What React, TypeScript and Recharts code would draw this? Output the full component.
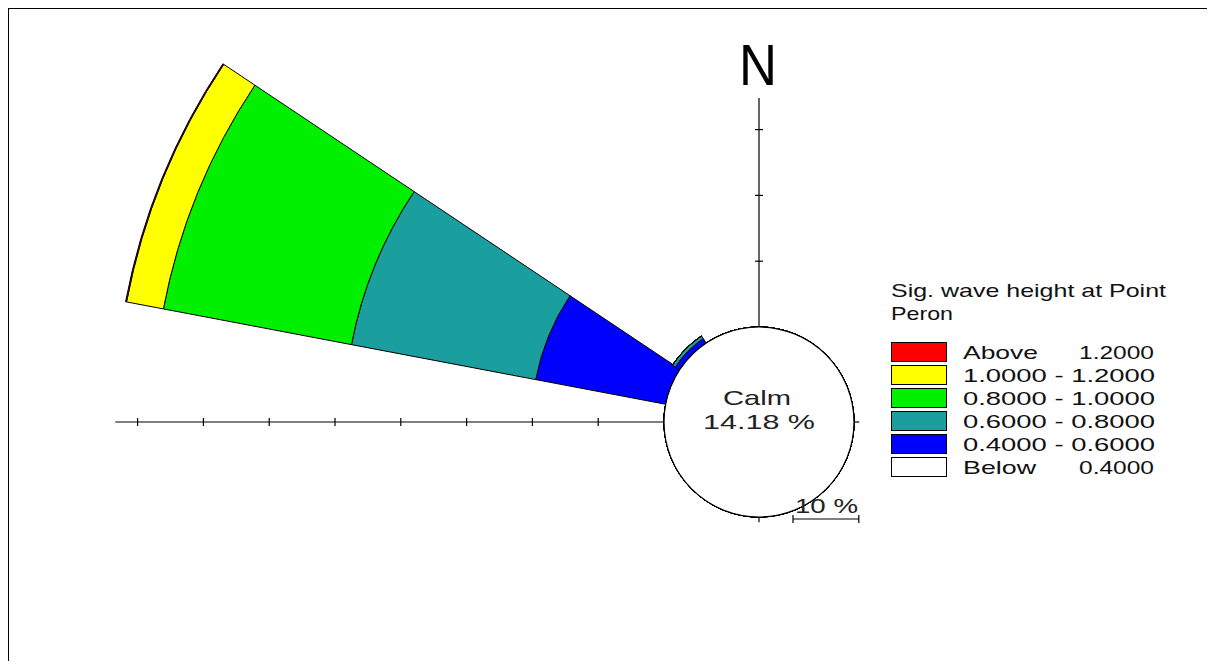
import { RadialBarChart, RadialBar, PolarAngleAxis, PolarRadiusAxis, Legend } from "recharts"

// 16 compass sectors, percent of time per wave-height band
const directions = ["N", "NNE", "NE", "ENE", "E", "ESE", "SE", "SSE", "S", "SSW", "SW", "WSW", "W", "WNW", "NW", "NNW"]
const below04 = [0, 0, 0, 0, 0, 0, 0, 0, 0, 0, 0, 0, 0, 0, 0, 0]
const h04to06 = [0, 0, 0, 0, 0, 0, 0, 0, 0, 0, 0, 0, 0, 20.1, 0.8, 0]
const h06to08 = [0, 0, 0, 0, 0, 0, 0, 0, 0, 0, 0, 0, 0, 28.5, 0.5, 0]
const h08to10 = [0, 0, 0, 0, 0, 0, 0, 0, 0, 0, 0, 0, 0, 29.1, 0, 0]
const h10to12 = [0, 0, 0, 0, 0, 0, 0, 0, 0, 0, 0, 0, 0, 5.7, 0, 0]
const above12 = [0, 0, 0, 0, 0, 0, 0, 0, 0, 0, 0, 0, 0, 0.15, 0, 0]
const calmPct = 14.18

const bandKeys = ["below", "b46", "b68", "b810", "b1012", "above"]
const bandColors = ["#ffffff", "#0000ff", "#1a9e9e", "#00f000", "#ffff00", "#ff0000"]
// legend rows, top to bottom
const legendRows = [
  { color: "#ff0000", left: "Above", right: "1.2000" },
  { color: "#ffff00", left: "1.0000 - 1.2000", right: "" },
  { color: "#00f000", left: "0.8000 - 1.0000", right: "" },
  { color: "#1a9e9e", left: "0.6000 - 0.8000", right: "" },
  { color: "#0000ff", left: "0.4000 - 0.6000", right: "" },
  { color: "#ffffff", left: "Below", right: "0.4000" },
]
const legendTitle = ["Sig. wave height at Point", "Peron"]

const westTicks = [0, 10, 20, 30, 40, 50, 60, 70, 80, 83.4]
const northTicks = [0, 10, 20, 30, 34.8]
const stubTicks = [0, 0.8]
const scaleBarPct = 10

const data = directions.map((dir, i) => ({
  dir,
  below: below04[i],
  b46: h04to06[i],
  b68: h06to08[i],
  b810: h08to10[i],
  b1012: h10to12[i],
  above: above12[i],
}))

const CX = 759
const CY = 422
const CALM_R = 95
const PX_PER_PCT = 6.58
const R_MAX = 90
const OUTER_R = CALM_R + R_MAX * PX_PER_PCT
const FONT = "'Liberation Sans', Arial, sans-serif"

const tickMark = (vertical: boolean, last: number) => (props: any) => {
  const { x, y, payload } = props
  if (payload.value === last && last !== 0) return <g />
  return vertical
    ? <line x1={x} y1={y - 4} x2={x} y2={y + 4} stroke="#000" strokeWidth={1.2} />
    : <line x1={x - 4} y1={y} x2={x + 4} y2={y} stroke="#000" strokeWidth={1.2} />
}

const renderLegend = () => (
  <svg width={300} height={210} style={{ display: "block" }}>
    <text x={11} y={22} fontFamily={FONT} fontSize={19} fill="#111" textLength={275} lengthAdjust="spacingAndGlyphs">{legendTitle[0]}</text>
    <text x={11} y={45} fontFamily={FONT} fontSize={19} fill="#111" textLength={62} lengthAdjust="spacingAndGlyphs">{legendTitle[1]}</text>
    {legendRows.map((r, i) => {
      const cy = 77 + i * 23
      return (
        <g key={i}>
          <rect x={11.5} y={cy - 9.5} width={55} height={19} fill={r.color} stroke="#000" strokeWidth={1} />
          {r.right ? (
            <>
              <text x={83} y={cy + 7} fontFamily={FONT} fontSize={19} fill="#111" textLength={r.left === "Above" ? 75 : 73} lengthAdjust="spacingAndGlyphs">{r.left}</text>
              <text x={199} y={cy + 7} fontFamily={FONT} fontSize={19} fill="#111" textLength={75} lengthAdjust="spacingAndGlyphs">{r.right}</text>
            </>
          ) : (
            <text x={83} y={cy + 7} fontFamily={FONT} fontSize={19} fill="#111" textLength={192} lengthAdjust="spacingAndGlyphs">{r.left}</text>
          )}
        </g>
      )
    })}
  </svg>
)

export default function App() {
  return (
    <div style={{ position: "relative", width: 1207, height: 661, marginLeft: -8, marginTop: -8, background: "#fff", overflow: "hidden" }}>
      <RadialBarChart
        width={1207}
        height={661}
        data={data}
        layout="centric"
        cx={CX}
        cy={CY}
        innerRadius={CALM_R}
        outerRadius={OUTER_R}
        startAngle={78.75}
        endAngle={-281.25}
        barCategoryGap={0}
        barGap={0}
        margin={{ top: 0, right: 0, bottom: 0, left: 0 }}
      >
        <PolarAngleAxis dataKey="dir" type="category" tick={false} axisLine={false} tickLine={false} />
        <PolarRadiusAxis type="number" domain={[0, R_MAX]} allowDataOverflow angle={180} ticks={westTicks as any} stroke="#000" axisLine={{ stroke: "#000", strokeWidth: 1.2 }} tick={tickMark(true, 83.4)} />
        <PolarRadiusAxis radiusAxisId="n" type="number" domain={[0, R_MAX]} allowDataOverflow angle={90} ticks={northTicks as any} stroke="#000" axisLine={{ stroke: "#000", strokeWidth: 1.2 }} tick={tickMark(false, 34.8)} />
        <PolarRadiusAxis radiusAxisId="e" type="number" domain={[0, R_MAX]} allowDataOverflow angle={0} ticks={stubTicks as any} stroke="#000" axisLine={{ stroke: "#000", strokeWidth: 1.2 }} tick={tickMark(true, 0.8)} />
        <PolarRadiusAxis radiusAxisId="s" type="number" domain={[0, R_MAX]} allowDataOverflow angle={270} ticks={stubTicks as any} stroke="#000" axisLine={{ stroke: "#000", strokeWidth: 1.2 }} tick={tickMark(false, 0.8)} />
        {bandKeys.map((k, i) => (
          <RadialBar key={k} dataKey={k} stackId="rose" fill={bandColors[i]} stroke="#000" strokeWidth={1} isAnimationActive={false} />
        ))}
        <Legend content={renderLegend} wrapperStyle={{ left: 880, top: 275, width: 300, height: 210 }} />
      </RadialBarChart>
      <svg width={1207} height={661} style={{ position: "absolute", left: 0, top: 0, pointerEvents: "none" }}>
        <path d="M8 661 V8 H1207" fill="none" stroke="#000" strokeWidth={2} />
        <circle cx={CX} cy={CY} r={CALM_R} fill="#fff" stroke="#000" strokeWidth={1.2} />
        <text x={757} y={405} textAnchor="middle" fontFamily={FONT} fontSize={21} fill="#222" textLength={68} lengthAdjust="spacingAndGlyphs">Calm</text>
        <text x={759} y={429} textAnchor="middle" fontFamily={FONT} fontSize={21} fill="#222" textLength={112} lengthAdjust="spacingAndGlyphs">{`${calmPct.toFixed(2)} %`}</text>
        <text x={758} y={85} textAnchor="middle" fontFamily={FONT} fontSize={57} fill="#000" textLength={38} lengthAdjust="spacingAndGlyphs">N</text>
        <text x={795} y={513} fontFamily={FONT} fontSize={21} fill="#222" textLength={63} lengthAdjust="spacingAndGlyphs">{`${scaleBarPct} %`}</text>
        <path
          d={`M793 515 V523 M793 519 H${793 + scaleBarPct * PX_PER_PCT} M${793 + scaleBarPct * PX_PER_PCT} 515 V523`}
          fill="none"
          stroke="#000"
          strokeWidth={1.2}
        />
      </svg>
    </div>
  )
}
